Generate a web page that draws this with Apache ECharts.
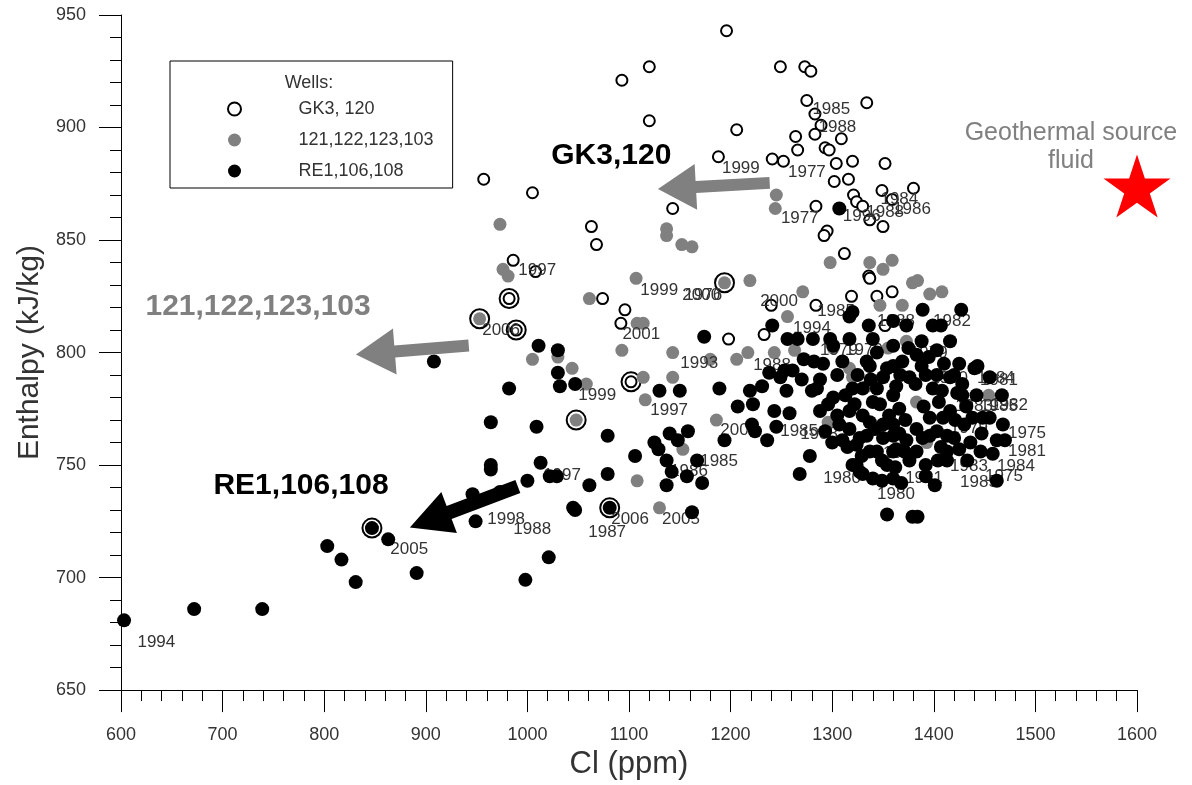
<!DOCTYPE html>
<html><head><meta charset="utf-8">
<script src="https://cdn.jsdelivr.net/npm/echarts@6/dist/echarts.min.js"></script>
<style>html,body{margin:0;padding:0;background:#fff}#chart{width:1192px;height:785px}</style>
</head><body><div id="chart"></div>
<script>
// ---------- data ----------
const seriesNames = ['GK3, 120', '121,122,123,103', 'RE1,106,108'];

const gk3Points = [[1196,943],[1093,921],[1120,927],[1249,927],[1273,927],[1279,925],[1120,903],[1206,899],[1275,912],[1334,911],[1283,906],[1289,901],[1283,897],[1264,896],[1309,895],[1293,891],[1297,890],[1266,890],[1188,887],[1241,886],[1252,885],[1304,884],[1320,885],[1352,884],[1302,876],[1316,877],[1321,870],[1349,872],[1284,865],[1359,868],[1380,873],[1324,867],[1330,865],[1337,859],[1350,856],[1295,854],[1292,852],[1312,844],[1336,834],[957,877],[1005,871],[1143,864],[1063,856],[1068,848],[986,841],[1008,836],[1074,824],[1096,819],[1092,813],[1198,806],[1233,808],[1240,821],[1284,821],[1319,825],[1344,825],[1359,827],[1337,833],[1352,812],[982,824],[989,810],[1102,787]];

const wells121Points = [[973,857],[976,837],[981,834],[1137,855],[1137,852],[1152,848],[1162,847],[1245,870],[1244,864],[1107,833],[1219,832],[1298,840],[1337,840],[1350,837],[1359,841],[1379,831],[1384,832],[1396,826],[1408,827],[1369,821],[1061,824],[1271,827],[1114,813],[1108,813],[1093,801],[1143,800],[1180,797],[1206,797],[1217,800],[1243,800],[1256,816],[1263,801],[1005,797],[1030,798],[1044,793],[1058,786],[1114,789],[1143,789],[1116,779],[1153,757],[1186,770],[1108,743],[1130,731],[1296,769],[1355,802],[1347,821],[1373,805],[1383,778],[1454,781],[1393,760],[1301,802],[1320,789],[1334,785],[1317,793],[953,815],[1194,831],[1048,770]];

const re1Points = [[603,681],[672,686],[739,686],[803,714],[817,708],[831,698],[847,722],[863,717],[891,702],[908,796],[949,725],[946,737],[964,769],[964,750],[964,748],[982,784],[1011,803],[1009,767],[1013,751],[1000,743],[1022,745],[1029,745],[998,699],[1021,709],[1047,730],[1081,731],[1162,729],[1354,728],[1384,727],[1030,801],[1030,791],[1032,785],[1047,786],[1079,763],[1106,754],[1130,783],[1150,783],[1174,807],[1189,784],[1140,764],[1158,765],[1148,761],[1125,760],[1129,757],[1137,752],[1167,752],[1142,747],[1157,745],[1137,741],[1172,742],[1079,746],[1061,741],[1045,731],[973,738],[1194,761],[1207,776],[1219,783],[1231,785],[1222,777],[1221,768],[1224,765],[1236,761],[1243,774],[1258,773],[1245,767],[1249,789],[1255,783],[1261,792],[1270,788],[1280,783],[1278,754],[1268,746],[1241,812],[1256,806],[1266,806],[1281,806],[1298,806],[1317,806],[1317,816],[1291,795],[1310,796],[1288,788],[1301,780],[1293,765],[1327,747],[1349,743],[1389,819],[1427,819],[1399,812],[1416,805],[1403,801],[1388,805],[1440,793],[1443,794],[1467,781],[1448,771],[1455,771],[1468,768],[1462,761],[1470,761],[1458,755],[1462,743],[1425,757],[1413,756],[1413,752],[1430,768],[1413,763],[1401,741],[1376,752],[1362,749],[1330,746],[1379,727],[1416,774],[1428,781],[1442,781],[1399,784],[1416,789],[1403,790],[1388,794],[1383,799],[1369,796],[1360,803],[1337,794],[1350,789],[1363,785],[1376,789],[1330,784],[1347,777],[1366,775],[1396,771],[1337,769],[1360,768],[1383,766],[1403,765],[1327,762],[1350,762],[1373,761],[1396,763],[1337,756],[1360,756],[1383,756],[1324,750],[1409,771],[1320,818],[1340,806],[1360,814],[1301,803],[1334,796],[1360,794],[1320,784],[1344,784],[1360,781],[1317,774],[1330,772],[1350,768],[1317,766],[1334,763],[1360,763],[1324,759],[1344,756],[1363,757],[1354,750],[1320,750],[1360,744],[1285,784],[1288,774],[1296,777],[1307,768],[1310,761],[1307,864],[1428,786],[1423,782],
  [1305,790],[1313,781],[1325,790],[1338,788],[1354,793],[1367,790],[1382,786],[1392,790],[1408,783],[1420,790],[1432,776],[1305,772],[1322,777],[1340,778],[1356,772],[1372,770],[1390,776],[1405,778],[1421,770],[1438,771],[1300,760],[1315,758],[1342,766],[1366,764],[1389,762],[1407,758],[1420,762],[1436,760],[1447,764],[1329,754],[1349,752],[1371,756],[1392,750],[1404,752],[1433,752],[1446,756],[1340,744],[1368,742],[1392,745],[1344,800],[1375,802],[1395,798],[1410,795],[1425,795],[1455,789],[1336,812],[1373,812],[1407,812],[1282,796],[1272,797],[1253,792],[1238,791]];

// samples marked with an outer ring
const ringPoints = [[953,815],[982,824],[989,810],[1194,831],[1102,787],[1048,770],[1081,731],[847,722]];

// geothermal source fluid
const sourcePoint = [[1600,874]];
const sourceLabel = [[1535,891.4,'Geothermal source\nfluid']];

// year annotations [Cl, enthalpy, year]
const yearLabels = [[1280,908.3,'1985'],[1286,900.3,'1988'],[1191,881.7,'1999'],[1256,879.9,'1977'],[1249,859.5,'1977'],[1347,867.9,'1984'],[1310,860.4,'1996'],[1333,862.1,'1988'],[1359.5,863.5,'1986'],[990.6,836.4,'1997'],[1110.6,827.5,'1999'],[1152,825.3,'2000'],[1154,825.3,'1976'],[1228.6,822.6,'2000'],[1261,810.7,'1994'],[1284.7,818.2,'1985'],[1398.8,813.8,'1982'],[1343.7,813.8,'1988'],[955,809.8,'2006'],[1093,808,'2001'],[1221.7,794.2,'1988'],[1150,795.1,'1993'],[1049.6,780.9,'1999'],[1120.4,774.3,'1997'],[1189.3,765.4,'2006'],[1248.3,764.9,'1985'],[1268,763.6,'1988'],[1287.6,800.9,'1979'],[1312.2,800.9,'1979'],[1290.6,744.1,'1980'],[1169.6,751.6,'1985'],[1140,747.2,'1986'],[1015,745.4,'1997'],[960,725.9,'1998'],[985.6,721.5,'1988'],[1059.4,720.1,'1987'],[1082,725.9,'2006'],[1132,725.9,'2005'],[864.6,712.6,'2005'],[615.7,671.3,'1994'],[1343.7,737,'1980'],[1371.3,744.1,'1981'],[1349.6,755.2,'1982'],[1415.5,749.4,'1983'],[1461.8,749.4,'1984'],[1425.4,742.3,'1985'],[1450,745,'1975'],[1472.6,756.1,'1981'],[1472.6,764.1,'1975'],[1415.5,766.3,'1979'],[1455,776.5,'1982'],[1420.5,776,'1983'],[1445,776,'1985'],[1442,788.5,'1984'],[1445,787.6,'1981'],[1396,788.5,'1980'],[1376,799.6,'1979']];

// trend labels [Cl, enthalpy, text]
const trendLabels = [[1023,887.4,'GK3,120'],[623.6,820.2,'121,122,123,103'],[690.5,741,'RE1,106,108']];
// trend arrows: tail and tip [Cl, enthalpy]
const arrowTails = [[1238.5,875.4],[942.3,803.1],[990.6,740.5]];
const arrowTips  = [[1128.5,872.7],[831.2,799.1],[884.3,722.3]];

// ---------- styles ----------
const FONT = "'Liberation Sans', Arial, sans-serif";
const GRAY = '#808080';
const trendColors = ['#000000', GRAY, '#000000'];
const arrowColors = [GRAY, GRAY, '#000000'];
const arrowShape = [[6,23,38],[6,23,39],[7,22,42]];
const starPath = 'path://M50,0 L61.2,34.5 L97.6,34.5 L68.2,55.9 L79.4,90.5 L50,69.1 L20.6,90.5 L31.8,55.9 L2.4,34.5 L38.8,34.5 Z';

const chart = echarts.init(document.getElementById('chart'), null, {renderer: 'canvas'});

const plainLabel = v => String(v);

const option = {
  animation: false,
  backgroundColor: '#ffffff',
  textStyle: {fontFamily: FONT},
  grid: {left: 121, right: 55, top: 15, bottom: 93, containLabel: false},
  legend: {
    data: seriesNames,
    orient: 'vertical',
    left: 170, top: 61,
    padding: [39, 19, 8, 57],
    itemGap: 13,
    itemWidth: 14, itemHeight: 13,
    borderColor: '#000', borderWidth: 1, borderRadius: 0,
    selectedMode: false,
    textStyle: {fontSize: 18, color: '#333', fontFamily: FONT, padding: [0, 0, 0, 52]}
  },
  xAxis: {
    type: 'value', min: 600, max: 1600, interval: 100,
    name: 'Cl (ppm)', nameLocation: 'middle', nameGap: 55,
    nameTextStyle: {fontSize: 31, color: '#333', fontFamily: FONT},
    axisLine: {onZero: false, lineStyle: {color: '#000', width: 1}},
    axisTick: {inside: false, length: 22, lineStyle: {color: '#000'}},
    minorTick: {show: true, splitNumber: 5, length: 11, lineStyle: {color: '#000'}},
    splitLine: {show: false},
    axisLabel: {fontSize: 18, color: '#333', margin: 36, fontFamily: FONT, formatter: plainLabel}
  },
  yAxis: {
    type: 'value', min: 650, max: 950, interval: 50,
    name: 'Enthalpy (kJ/kg)', nameLocation: 'middle', nameGap: 75,
    nameTextStyle: {fontSize: 30, color: '#333', fontFamily: FONT},
    axisLine: {show: true, onZero: false, lineStyle: {color: '#000', width: 1}},
    axisTick: {show: true, inside: false, length: 22, lineStyle: {color: '#000'}},
    minorTick: {show: true, splitNumber: 5, length: 11, lineStyle: {color: '#000'}},
    splitLine: {show: false},
    axisLabel: {fontSize: 18, color: '#333', margin: 35, fontFamily: FONT, formatter: plainLabel}
  },
  series: [
    {
      name: 'rings', type: 'scatter', data: ringPoints, z: 1, silent: true,
      symbol: 'circle', symbolSize: 19,
      itemStyle: {color: '#fff', borderColor: '#000', borderWidth: 2, opacity: 1},
      emphasis: {disabled: true}
    },
    {
      name: seriesNames[0], type: 'scatter', data: gk3Points, z: 2, silent: true,
      symbol: 'circle', symbolSize: 11,
      itemStyle: {color: '#fff', borderColor: '#000', borderWidth: 2, opacity: 1},
      emphasis: {disabled: true}
    },
    {
      name: seriesNames[1], type: 'scatter', data: wells121Points, z: 3, silent: true,
      symbol: 'circle', symbolSize: 13,
      itemStyle: {color: GRAY, opacity: 1},
      emphasis: {disabled: true}
    },
    {
      name: 'years', type: 'scatter', data: yearLabels, z: 4, silent: true,
      symbol: 'circle', symbolSize: 1,
      itemStyle: {color: 'rgba(0,0,0,0)', opacity: 1},
      label: {show: true, position: 'right', distance: 0, formatter: p => p.value[2],
        fontSize: 17, color: '#333', opacity: 1, fontFamily: FONT},
      labelLayout: {hideOverlap: false},
      emphasis: {disabled: true}
    },
    {
      name: seriesNames[2], type: 'scatter', data: re1Points, z: 5, silent: true,
      symbol: 'circle', symbolSize: 14,
      itemStyle: {color: '#000', opacity: 1},
      emphasis: {disabled: true}
    },
    {
      name: 'trend labels', type: 'scatter', z: 7, silent: true,
      data: trendLabels.map((d, i) => ({value: d, label: {color: trendColors[i]}})),
      symbol: 'circle', symbolSize: 1,
      itemStyle: {color: 'rgba(0,0,0,0)', opacity: 1},
      label: {show: true, position: 'right', distance: 0, formatter: p => p.value[2],
        fontSize: 30, fontWeight: 'bold', opacity: 1, fontFamily: FONT},
      emphasis: {disabled: true}
    },
    {
      name: 'source label', type: 'scatter', data: sourceLabel, z: 7, silent: true,
      symbol: 'circle', symbolSize: 1,
      itemStyle: {color: 'rgba(0,0,0,0)', opacity: 1},
      label: {show: true, position: 'inside', align: 'center', verticalAlign: 'middle',
        formatter: p => p.value[2], fontSize: 25, lineHeight: 28, color: GRAY, opacity: 1, fontFamily: FONT},
      emphasis: {disabled: true}
    },
    {
      name: 'source', type: 'scatter', data: sourcePoint, z: 7, silent: true, clip: false,
      symbol: starPath, symbolSize: [67, 63],
      itemStyle: {color: '#ff0000', opacity: 1},
      emphasis: {disabled: true}
    }
  ]
};
chart.setOption(option);

function arrowPoly(p0, p1, shaftHalf, headHalf, headLen) {
  const dx = p1[0] - p0[0], dy = p1[1] - p0[1];
  const L = Math.hypot(dx, dy);
  const ux = dx / L, uy = dy / L, nx = -uy, ny = ux;
  const bx = p1[0] - ux * headLen, by = p1[1] - uy * headLen;
  return [
    [p0[0] + nx * shaftHalf, p0[1] + ny * shaftHalf],
    [bx + nx * shaftHalf, by + ny * shaftHalf],
    [bx + nx * headHalf, by + ny * headHalf],
    [p1[0], p1[1]],
    [bx - nx * headHalf, by - ny * headHalf],
    [bx - nx * shaftHalf, by - ny * shaftHalf],
    [p0[0] - nx * shaftHalf, p0[1] - ny * shaftHalf]
  ];
}

const graphics = arrowTails.map((t, i) => {
  const p0 = chart.convertToPixel({gridIndex: 0}, t);
  const p1 = chart.convertToPixel({gridIndex: 0}, arrowTips[i]);
  const s = arrowShape[i];
  return {type: 'polygon', z: 100, silent: true,
    shape: {points: arrowPoly(p0, p1, s[0], s[1], s[2])},
    style: {fill: arrowColors[i]}};
});
graphics.push({type: 'text', z: 100, silent: true,
  style: {x: 309, y: 83, text: 'Wells:', fontSize: 18, fill: '#333', font: '18px ' + FONT,
    align: 'center', verticalAlign: 'middle'}});
chart.setOption({graphic: graphics});
</script>
</body></html>
